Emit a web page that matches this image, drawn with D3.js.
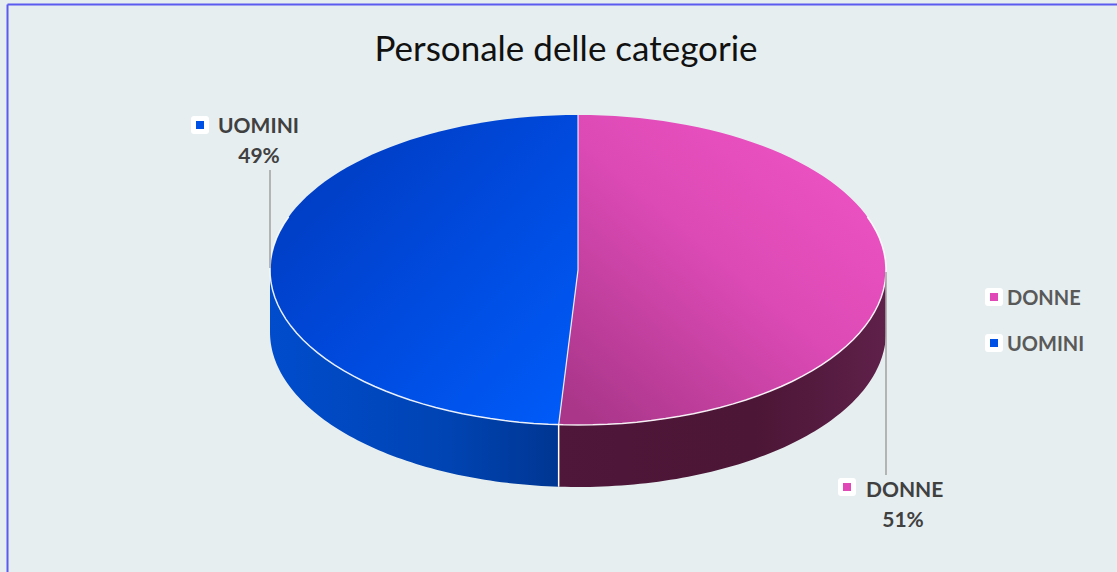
<!DOCTYPE html>
<html><head><meta charset="utf-8">
<script src="https://cdn.jsdelivr.net/npm/d3@7"></script>
<style>html,body{margin:0;padding:0;background:#e6eef0;}svg{display:block;}</style>
</head><body>
<svg id="c" width="1117" height="572"></svg>
<script>
const title = "Personale delle categorie";
const categories = ["DONNE", "UOMINI"];
const values = [51, 49];
const pctLabels = ["51%", "49%"];
const legendOrder = ["DONNE", "UOMINI"];

const W = 1117, H = 572;
const svg = d3.select("#c");
const font = "Lato, 'Open Sans', sans-serif";

svg.append("rect").attr("x",0).attr("y",0).attr("width",W).attr("height",H).attr("fill","#e6eef0");
svg.append("line").attr("x1",7.5).attr("y1",4.5).attr("x2",W).attr("y2",4.5).attr("stroke","#5b5bef").attr("stroke-width",2);
svg.append("line").attr("x1",7.5).attr("y1",4.5).attr("x2",7.5).attr("y2",H).attr("stroke","#5b5bef").attr("stroke-width",2);

svg.append("text").attr("x",566).attr("y",61).attr("text-anchor","middle")
  .attr("font-family",font).attr("font-size",35).attr("fill","#111").text(title);

const defs = svg.append("defs");
function lin(id, x1,y1,x2,y2, stops){
  const g = defs.append("linearGradient").attr("id",id).attr("x1",x1).attr("y1",y1).attr("x2",x2).attr("y2",y2);
  stops.forEach(s=>g.append("stop").attr("offset",s[0]).attr("stop-color",s[1]));
}
lin("topD", "0.9","0.1","0.1","1", [[0,"#ee52c4"],[0.45,"#dc4ab5"],[1,"#a93689"]]);
lin("topU", "0","0","1","1", [[0,"#0038b8"],[0.5,"#0049dc"],[1,"#005cfa"]]);
lin("sideD", "0","0","1","0", [[0,"#4f173a"],[0.6,"#4c1636"],[1,"#5f2049"]]);
lin("sideU", "0","0","1","0", [[0,"#004ccc"],[0.6,"#0044b4"],[1,"#003692"]]);

const colorTop = {DONNE:"url(#topD)", UOMINI:"url(#topU)"};
const colorSide = {DONNE:"url(#sideD)", UOMINI:"url(#sideU)"};
const markColor = {DONNE:"#e048b8", UOMINI:"#0050e6"};

const cx = 578, cy = 270, rx = 308, ry = 155, depth = 62;
const pie = d3.pie().sort(null).value(d=>d.v);
const arcs = pie(categories.map((c,i)=>({c, v:values[i]})));

function pt(a, dy=0){ return [cx + rx*Math.sin(a), cy - ry*Math.cos(a) + dy]; }
function arcPts(a0,a1,dy=0,n=80){
  const out=[]; for(let i=0;i<=n;i++){ out.push(pt(a0+(a1-a0)*i/n, dy)); } return out;
}
const line = d3.line();

arcs.forEach(d=>{
  const a0 = Math.max(d.startAngle, Math.PI/2), a1 = Math.min(d.endAngle, 3*Math.PI/2);
  if (a1 <= a0) return;
  const top = arcPts(a0,a1,0), bot = arcPts(a1,a0,depth);
  svg.append("path").attr("d", line(top.concat(bot))+"Z").attr("fill", colorSide[d.data.c]);
});
arcs.forEach(d=>{
  const p = [[cx,cy]].concat(arcPts(d.startAngle,d.endAngle,0));
  svg.append("path").attr("d", line(p)+"Z").attr("fill", colorTop[d.data.c]);
});
svg.append("path").attr("d", line(arcPts(Math.PI/2-0.35, 3*Math.PI/2+0.35,0))).attr("fill","none")
  .attr("stroke","#ffffff").attr("stroke-opacity",0.9).attr("stroke-width",1.5);
arcs.forEach(d=>{
  const a = d.startAngle;
  const p = pt(a);
  svg.append("line").attr("x1",cx).attr("y1",cy).attr("x2",p[0]).attr("y2",p[1])
    .attr("stroke","#ffffff").attr("stroke-opacity",0.85).attr("stroke-width",1.2);
  if (Math.cos(a) < 0) {
    svg.append("line").attr("x1",p[0]).attr("y1",p[1]).attr("x2",p[0]).attr("y2",p[1]+depth)
      .attr("stroke","#ffffff").attr("stroke-width",1.5);
  }
});

const lbl = {
  DONNE: {lx:[886,272,886,475], mx:838, my:478, tx:866, ty:497, px:903, py:527},
  UOMINI:{lx:[270,268,270,170], mx:191, my:116, tx:218, ty:133, px:259, py:163}
};
categories.forEach((c,i)=>{
  const L = lbl[c];
  svg.append("line").attr("x1",L.lx[0]).attr("y1",L.lx[1]).attr("x2",L.lx[2]).attr("y2",L.lx[3])
    .attr("stroke","#a6a6a6").attr("stroke-width",1.6);
  svg.append("rect").attr("x",L.mx).attr("y",L.my).attr("width",18).attr("height",18).attr("rx",3).attr("fill","#fff");
  svg.append("rect").attr("x",L.mx+5).attr("y",L.my+5).attr("width",8).attr("height",8).attr("fill",markColor[c]);
  svg.append("text").attr("x",L.tx).attr("y",L.ty).attr("font-family",font).attr("font-weight","bold")
    .attr("font-size",21).attr("fill","#404040").text(c);
  svg.append("text").attr("x",L.px).attr("y",L.py).attr("text-anchor","middle").attr("font-family",font).attr("font-weight","bold")
    .attr("font-size",21).attr("fill","#404040").text(pctLabels[i]);
});

legendOrder.forEach((c,i)=>{
  const y = 288 + i*46;
  svg.append("rect").attr("x",985).attr("y",y).attr("width",18).attr("height",18).attr("rx",3).attr("fill","#fff");
  svg.append("rect").attr("x",990).attr("y",y+5).attr("width",8).attr("height",8).attr("fill",markColor[c]);
  svg.append("text").attr("x",1007).attr("y",y+17).attr("font-family",font).attr("font-weight","bold")
    .attr("font-size",20).attr("fill","#595959").text(c);
});
</script>
</body></html>
